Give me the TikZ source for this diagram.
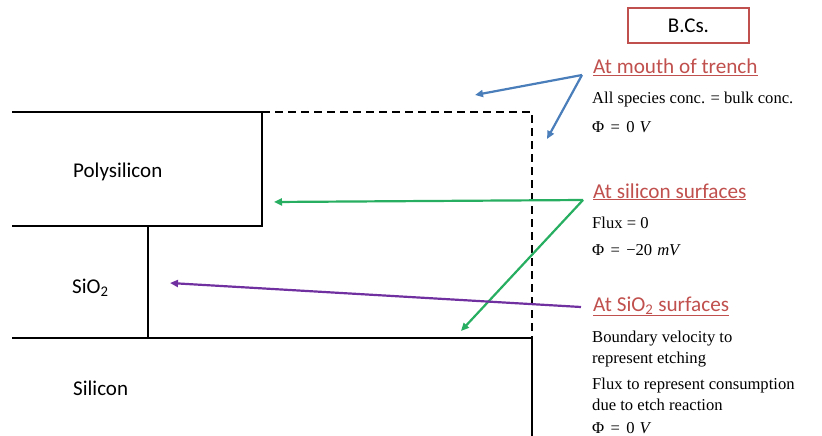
\documentclass[tikz,border=0pt]{standalone}
\usepackage{fontspec}
\setmainfont{Liberation Serif}
\newfontfamily\headfont{Carlito}
\usetikzlibrary{arrows.meta}
\definecolor{bcred}{RGB}{192,80,77}
\definecolor{bcblue}{RGB}{74,126,187}
\definecolor{bcgreen}{RGB}{39,174,96}
\definecolor{bcpurple}{RGB}{112,48,160}
\tikzset{
  wall/.style={line width=2pt, line cap=rect},
  openwall/.style={line width=2pt, dash pattern=on 8pt off 5pt},
  region/.style={anchor=base west, font=\headfont\fontsize{21}{24}\selectfont, inner sep=0pt},
  heading/.style={anchor=base west, inner sep=0pt, text=bcred,
    font=\headfont\fontsize{21.2}{24}\selectfont},
  body/.style={anchor=base west, inner sep=0pt, font=\fontsize{16.6}{20}\selectfont},
  pointer/.style={line width=2.2pt, -{Triangle[length=8pt,width=7pt]}},
}
\newcommand{\uline}[1]{\underline{#1}}
% equals sign with the wider spacing of a display formula
\newcommand{\eqsign}{\hspace{0.38em}=\hspace{0.38em}}
\newcommand{\unitgap}{\hspace{0.3em}}
\begin{document}
\begin{tikzpicture}[x=1pt,y=-1pt]
\useasboundingbox (0,0) rectangle (822,436);

% film stack and trench outline
\draw[wall] (13,112) -- (262,112) -- (262,226) -- (13,226);
\draw[wall] (148,226) -- (148,338);
\draw[wall] (13,338) -- (532,338) -- (532,436);
\draw[openwall] (262,112) -- (532,112) -- (532,338);

\node[region] (poly) at (73,177) {Polysilicon};
\node[region] (oxide) at (72,293) {SiO\textsubscript{2}};
\node[region] (si) at (73,395) {Silicon};

% boundary-condition legend
\node[draw=bcred, line width=1.6pt, minimum width=121pt, minimum height=35pt,
      inner sep=0pt, font=\headfont\fontsize{21}{24}\selectfont] (bcs) at (688.5,25.5) {B.Cs.};

\node[heading] (mouth) at (593,74) {\uline{At mouth of trench}};
\node[body] (mouth1) at (592,103) {All species conc. = bulk conc.};
\node[body] (mouth2) at (592,132) {Φ\eqsign{}0\unitgap{}\textit{V}};

\node[heading] (sisurf) at (593,198) {\uline{At silicon surfaces}};
\node[body] (sisurf1) at (592,228) {Flux = 0};
\node[body] (sisurf2) at (592,255) {Φ\eqsign{}−20\unitgap{}\textit{mV}};

\node[heading] (oxsurf) at (593,311) {\uline{At SiO\textsubscript{2} surfaces}};
\node[body] (oxsurf1) at (592,342) {Boundary velocity to};
\node[body] (oxsurf2) at (592,363) {represent etching};
\node[body] (oxsurf3) at (592,389) {Flux to represent consumption};
\node[body] (oxsurf4) at (592,410) {due to etch reaction};
\node[body] (oxsurf5) at (592,433) {Φ\eqsign{}0\unitgap{}\textit{V}};

% pointer origins and targets
\coordinate (mouthsrc) at (582,75);
\coordinate (mouthA) at (475,95);
\coordinate (mouthB) at (547,139);
\coordinate (sisrc) at (583,200);
\coordinate (siA) at (274,202);
\coordinate (siB) at (461,331);
\coordinate (oxsrc) at (581,307);
\coordinate (oxA) at (170,283);

\draw[pointer, bcblue] (mouthsrc) -- (mouthA);
\draw[pointer, bcblue] (mouthsrc) -- (mouthB);
\draw[pointer, bcgreen] (sisrc) -- (siA);
\draw[pointer, bcgreen] (sisrc) -- (siB);
\draw[pointer, bcpurple] (oxsrc) -- (oxA);
\end{tikzpicture}
\end{document}
